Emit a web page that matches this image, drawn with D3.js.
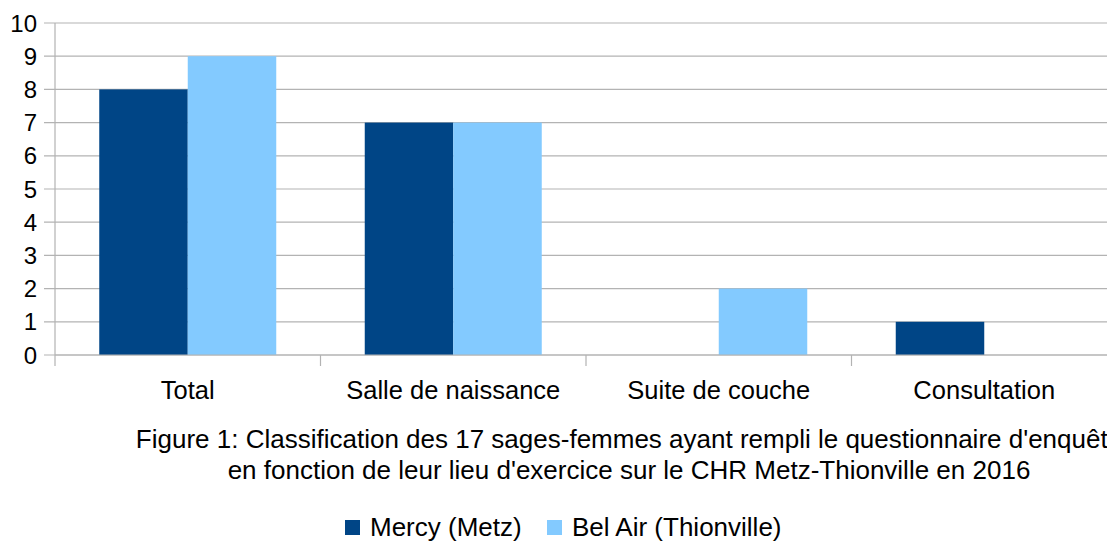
<!DOCTYPE html>
<html><head><meta charset="utf-8">
<script src="https://cdn.jsdelivr.net/npm/d3@7"></script>
<style>body{margin:0;background:#fff}svg{display:block}text{font-family:"Liberation Sans",Arial,sans-serif;fill:#000}</style>
</head><body><svg width="1107" height="542"></svg>
<script>
const categories = ["Total", "Salle de naissance", "Suite de couche", "Consultation"];
const seriesNames = ["Mercy (Metz)", "Bel Air (Thionville)"];
const mercy = [8, 7, 0, 1];
const belAir = [9, 7, 2, 0];
const yTicks = [0,1,2,3,4,5,6,7,8,9,10];
const captionLines = ["Figure 1: Classification des 17 sages-femmes ayant rempli le questionnaire d'enquête",
                      "en fonction de leur lieu d'exercice sur le CHR Metz-Thionville en 2016"];
const colors = ["#004586", "#83caff"];

(function(){
const svg = d3.select("svg");
const pLeft = 55, pRight = 1117, pTop = 23, pBottom = 355;
const x = d3.scaleBand().domain(categories).range([pLeft, pRight]).paddingInner(0).paddingOuter(0);
const y = d3.scaleLinear().domain([0, 10]).range([pBottom, pTop]);
const inner = d3.scaleBand().domain(seriesNames).range([0, x.bandwidth()]).paddingInner(0).paddingOuter(0.5);

// gridlines
svg.append("g").selectAll("line").data(yTicks).join("line")
  .attr("x1", pLeft - 11).attr("x2", 1107)
  .attr("y1", d => y(d)).attr("y2", d => y(d))
  .attr("stroke", "#b3b3b3").attr("stroke-width", 1.2);

// y labels
svg.append("g").selectAll("text").data(yTicks).join("text")
  .attr("x", 37).attr("y", d => y(d)).attr("dy", "0.36em")
  .attr("text-anchor", "end").attr("font-size", 24).text(d => d);

// bars
const data = categories.map((c, i) => ({c, vals: [mercy[i], belAir[i]]}));
const g = svg.append("g");
data.forEach(d => {
  d.vals.forEach((v, j) => {
    g.append("rect")
      .attr("x", x(d.c) + inner(seriesNames[j]))
      .attr("width", inner.bandwidth())
      .attr("y", y(v)).attr("height", y(0) - y(v))
      .attr("fill", colors[j]);
  });
});

// axes lines
svg.append("line").attr("x1", pLeft).attr("x2", pLeft).attr("y1", pTop).attr("y2", pBottom + 11)
  .attr("stroke", "#b3b3b3").attr("stroke-width", 1.2);
svg.append("line").attr("x1", pLeft).attr("x2", 1107).attr("y1", pBottom).attr("y2", pBottom)
  .attr("stroke", "#b3b3b3").attr("stroke-width", 1.2);
svg.append("g").selectAll("line").data(categories.slice(1)).join("line")
  .attr("x1", d => x(d)).attr("x2", d => x(d)).attr("y1", pBottom).attr("y2", pBottom + 11)
  .attr("stroke", "#b3b3b3").attr("stroke-width", 1.2);

// category labels
svg.append("g").selectAll("text").data(categories).join("text")
  .attr("x", d => x(d) + x.bandwidth() / 2).attr("y", 399)
  .attr("text-anchor", "middle").attr("font-size", 25.5).text(d => d);

// caption
svg.append("g").selectAll("text").data(captionLines).join("text")
  .attr("x", 629).attr("y", (d, i) => 448 + i * 31)
  .attr("text-anchor", "middle").attr("font-size", 26).text(d => d);

// legend
const legendX = [345, 547];
const lg = svg.append("g");
seriesNames.forEach((s, i) => {
  lg.append("rect").attr("x", legendX[i]).attr("y", 520).attr("width", 15).attr("height", 15).attr("fill", colors[i]);
  lg.append("text").attr("x", legendX[i] + 25).attr("y", 536).attr("font-size", 26).text(s);
});
})();
</script></body></html>
